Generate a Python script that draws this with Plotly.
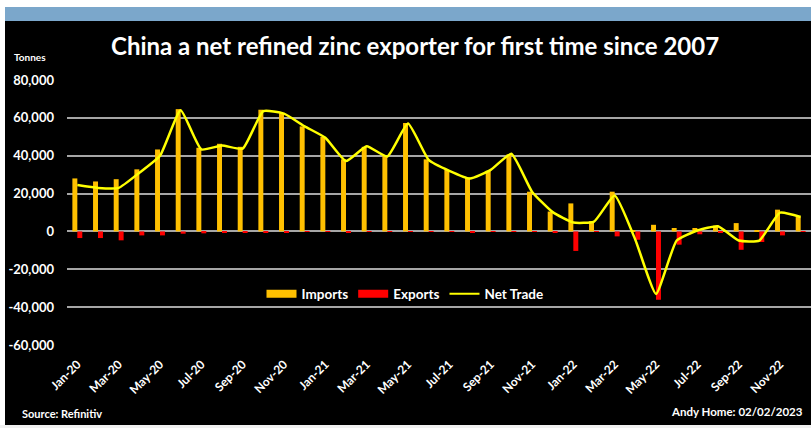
import plotly.graph_objects as go

months = ["Jan-20","Feb-20","Mar-20","Apr-20","May-20","Jun-20","Jul-20","Aug-20","Sep-20","Oct-20","Nov-20","Dec-20",
          "Jan-21","Feb-21","Mar-21","Apr-21","May-21","Jun-21","Jul-21","Aug-21","Sep-21","Oct-21","Nov-21","Dec-21",
          "Jan-22","Feb-22","Mar-22","Apr-22","May-22","Jun-22","Jul-22","Aug-22","Sep-22","Oct-22","Nov-22","Dec-22"]

imports = [28000, 26400, 27600, 32800, 43300, 64600, 44200, 46300, 44700, 64300, 62500, 55500,
           50000, 38100, 44700, 39800, 57300, 38100, 32500, 28500, 32000, 40700, 21000, 10500,
           14800, 5400, 21000, 500, 3500, 1800, 1800, 3000, 4400, 600, 11500, 7600]

exports = [-3500, -3500, -4700, -2100, -2100, -1200, -1000, -800, -700, -500, -400, -300,
           -300, -400, -300, -300, -200, -300, -300, -400, -300, -200, -300, -400,
           -10300, -300, -2600, -4400, -36100, -7000, -1500, -500, -9700, -5600, -2100, -300]

net_trade = [24500, 23000, 23000, 31000, 40000, 64000, 43300, 45400, 43700, 63500, 62200, 55500,
             49500, 37200, 45000, 39600, 57000, 37800, 32000, 27900, 32500, 41000, 21000, 10200,
             4700, 5200, 19000, -4400, -33000, -4800, 500, 2700, -4800, -4800, 9900, 7600]

tick_labels = months[::2]
y_ticks = [-60000, -40000, -20000, 0, 20000, 40000, 60000, 80000]

IMP_C, EXP_C, NET_C = "#FFC000", "#FF0000", "#FFFF00"
FONT = "Lato"
W, H = 811, 428
ML, MR, MT, MB = 67, 0, 80, 83
plot_h = H - MT - MB
plot_w = W - ML - MR

def py(p):  # pixel y from top -> paper
    return (H - MB - p) / plot_h

def px(p):
    return (p - ML) / plot_w

fig = go.Figure()
fig.add_trace(go.Bar(name="Imports", x=months, y=imports, marker_color=IMP_C, marker_line_width=0,
                     showlegend=False, legendgroup="imp"))
fig.add_trace(go.Bar(name="Exports", x=months, y=exports, marker_color=EXP_C, marker_line_width=0,
                     showlegend=False, legendgroup="exp"))
fig.add_trace(go.Scatter(name="Net Trade", x=months, y=net_trade, mode="lines", showlegend=False,
                         legendgroup="net",
                         line=dict(color=NET_C, width=2.5, shape="spline", smoothing=0.45)))
# legend entries (wide swatches like the original)
fig.add_trace(go.Scatter(name="Imports", x=[None], y=[None], mode="lines", legendgroup="imp",
                         line=dict(color=IMP_C, width=8)))
fig.add_trace(go.Scatter(name="Exports", x=[None], y=[None], mode="lines", legendgroup="exp",
                         line=dict(color=EXP_C, width=8)))
fig.add_trace(go.Scatter(name="Net Trade", x=[None], y=[None], mode="lines", legendgroup="net",
                         line=dict(color=NET_C, width=2)))

n = len(months)
boundaries = [i - 0.5 for i in range(0, n, 2)]

fig.update_layout(
    width=W, height=H,
    margin=dict(l=ML, r=MR, t=MT, b=MB),
    paper_bgcolor="#000000", plot_bgcolor="#000000",
    barmode="group", bargap=0.52, bargroupgap=0,
    showlegend=True,
    legend=dict(orientation="h", x=px(405), xanchor="center", y=py(294), yanchor="middle",
                font=dict(family=FONT, size=13.5, color="white", weight="bold"),
                bgcolor="rgba(0,0,0,0)", itemwidth=30, traceorder="normal", tracegroupgap=0),
    xaxis=dict(type="category", categoryorder="array", categoryarray=months,
               tickmode="array", tickvals=tick_labels, ticktext=tick_labels,
               tickangle=-45, ticks="", showgrid=False, showline=False, zeroline=False,
               tickfont=dict(family=FONT, size=12, color="white", weight="bold"),
               ticklabelstandoff=9, range=[-0.5, n - 0.5]),
    xaxis2=dict(overlaying="x", anchor="free", position=(0 - y_ticks[0]) / (y_ticks[-1] - y_ticks[0]),
                range=[-0.5, n - 0.5], tickmode="array", tickvals=boundaries,
                showticklabels=False, ticks="outside", ticklen=5, tickwidth=1.5, tickcolor="#a6a6a6",
                showgrid=False, showline=False, zeroline=False),
    yaxis=dict(range=[y_ticks[0], y_ticks[-1]], tickvals=y_ticks,
               ticktext=[f"{v:,}" for v in y_ticks],
               showgrid=True, gridcolor="#a6a6a6", gridwidth=1.5,
               zeroline=True, zerolinecolor="#a6a6a6", zerolinewidth=1.5,
               tickfont=dict(family=FONT, size=13, color="white", weight="bold"),
               ticks="", ticklabelstandoff=12, showline=False),
    shapes=[
        dict(type="rect", xref="paper", yref="paper", x0=px(-2), x1=px(W + 2), y0=py(7), y1=py(-2),
             fillcolor="white", line_width=0, layer="below"),
        dict(type="rect", xref="paper", yref="paper", x0=px(5), x1=px(W + 2), y0=py(21), y1=py(7),
             fillcolor="#7BA7CB", line_width=0, layer="below"),
        dict(type="rect", xref="paper", yref="paper", x0=px(-2), x1=px(5), y0=py(H + 2), y1=py(7),
             fillcolor="white", line_width=0, layer="below"),
        dict(type="rect", xref="paper", yref="paper", x0=px(-2), x1=px(W + 2), y0=py(H + 2), y1=py(425),
             fillcolor="#F0F0F0", line_width=0, layer="below"),
    ],
    annotations=[
        dict(text="China a net refined zinc exporter for first time since 2007", xref="paper", yref="paper",
             x=px(415), y=py(45), xanchor="center", yanchor="middle", showarrow=False,
             font=dict(family=FONT, size=24, color="white", weight="bold")),
        dict(text="Tonnes", xref="paper", yref="paper", x=px(12), y=py(57), xanchor="left", yanchor="middle",
             showarrow=False, font=dict(family=FONT, size=10, color="white", weight="bold")),
        dict(text="Source: Refinitiv", xref="paper", yref="paper", x=px(20), y=py(413), xanchor="left",
             yanchor="middle", showarrow=False, font=dict(family=FONT, size=11, color="white", weight="bold")),
        dict(text="Andy Home: 02/02/2023", xref="paper", yref="paper", x=px(805), y=py(411), xanchor="right",
             yanchor="middle", showarrow=False, font=dict(family=FONT, size=11.5, color="white", weight="bold")),
    ],
)

fig.write_html("out.html", config={"displayModeBar": False},
               post_script="document.body.style.margin='0';")
